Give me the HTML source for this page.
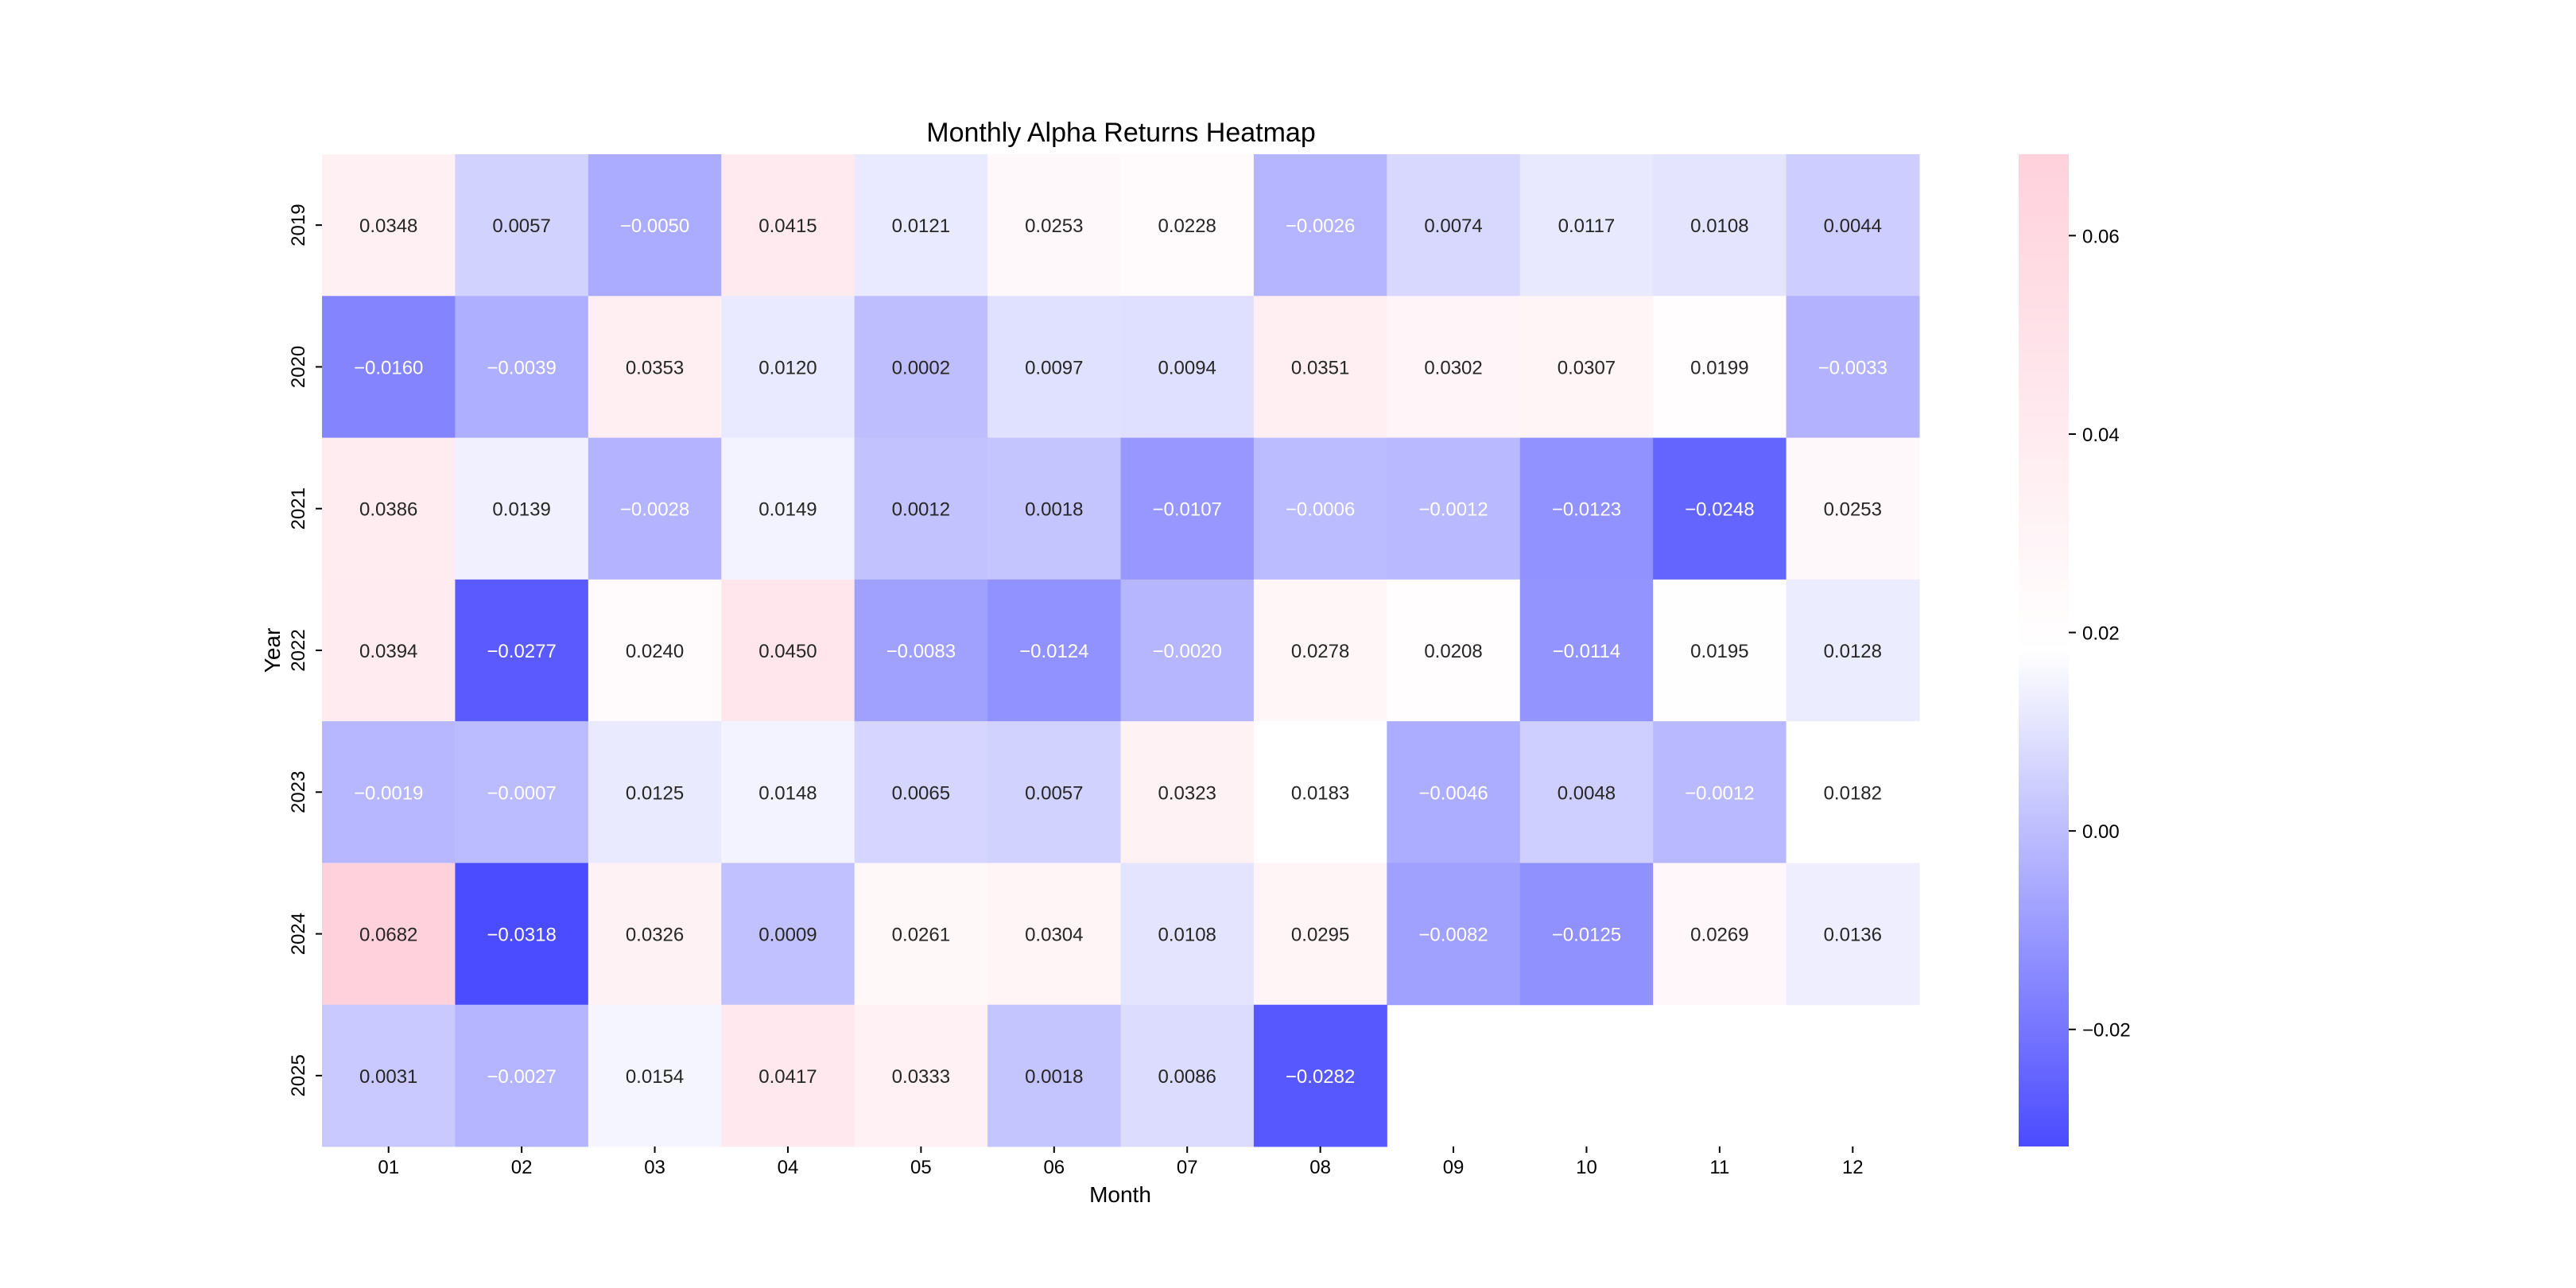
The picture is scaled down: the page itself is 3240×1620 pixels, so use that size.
<!DOCTYPE html>
<html><head><meta charset="utf-8">
<style>
html,body{margin:0;padding:0;background:#fff;}
svg{display:block;font-family:"WenQuanYi Zen Hei","Liberation Sans",sans-serif;}
</style></head>
<body>
<svg id="chart" width="3240" height="1620" viewBox="0 0 3240 1620" xmlns="http://www.w3.org/2000/svg">
<rect width="3240" height="1620" fill="#fff"/>
<text x="1410" y="178" font-size="34" text-anchor="middle" fill="#000">Monthly Alpha Returns Heatmap</text>
<g id="cells"></g>
<g id="xticks"></g>
<g id="yticks"></g>
<text x="1409" y="1512" font-size="28" text-anchor="middle" fill="#000">Month</text>
<text transform="translate(352,818) rotate(-90)" x="0" y="0" font-size="28" text-anchor="middle" fill="#000">Year</text>
<defs>
<linearGradient id="cbgrad" x1="0" y1="1" x2="0" y2="0">
<stop offset="0" stop-color="#4b4bff"/>
<stop offset="0.5" stop-color="#ffffff"/>
<stop offset="1" stop-color="#ffd1dc"/>
</linearGradient>
</defs>
<rect x="2539" y="194" width="63" height="1248" fill="url(#cbgrad)"/>
<g id="cbticks"></g>
</svg>
<script>
const months = ["01","02","03","04","05","06","07","08","09","10","11","12"];
const years = ["2019","2020","2021","2022","2023","2024","2025"];
const v2019 = [0.0348,0.0057,-0.0050,0.0415,0.0121,0.0253,0.0228,-0.0026,0.0074,0.0117,0.0108,0.0044];
const v2020 = [-0.0160,-0.0039,0.0353,0.0120,0.0002,0.0097,0.0094,0.0351,0.0302,0.0307,0.0199,-0.0033];
const v2021 = [0.0386,0.0139,-0.0028,0.0149,0.0012,0.0018,-0.0107,-0.0006,-0.0012,-0.0123,-0.0248,0.0253];
const v2022 = [0.0394,-0.0277,0.0240,0.0450,-0.0083,-0.0124,-0.0020,0.0278,0.0208,-0.0114,0.0195,0.0128];
const v2023 = [-0.0019,-0.0007,0.0125,0.0148,0.0065,0.0057,0.0323,0.0183,-0.0046,0.0048,-0.0012,0.0182];
const v2024 = [0.0682,-0.0318,0.0326,0.0009,0.0261,0.0304,0.0108,0.0295,-0.0082,-0.0125,0.0269,0.0136];
const v2025 = [0.0031,-0.0027,0.0154,0.0417,0.0333,0.0018,0.0086,-0.0282,null,null,null,null];
const values = [v2019,v2020,v2021,v2022,v2023,v2024,v2025];
const cbTicks = [0.06,0.04,0.02,0.00,-0.02];
const cbLabels = ["0.06","0.04","0.02","0.00","\u22120.02"];

(function(){
const NS="http://www.w3.org/2000/svg";
const pL=405,pR=2414,pT=194,pB=1442;
const cw=(pR-pL)/months.length, ch=(pB-pT)/years.length;
const xPos=i=>pL+i*cw;
const yPos=j=>pT+j*ch;
const all=values.flat().filter(v=>v!==null);
const vmin=Math.min(...all), vmax=Math.max(...all);
const cbY=v=>pB-(v-vmin)/(vmax-vmin)*(pB-pT);
function lerp(a,b,t){return a.map((x,i)=>Math.round(x+(b[i]-x)*t));}
function color(v){
  const t=(v-vmin)/(vmax-vmin);
  const lo=[0x4b,0x4b,0xff],mid=[255,255,255],hi=[0xff,0xd1,0xdc];
  const c=t<0.5?lerp(lo,mid,t/0.5):lerp(mid,hi,(t-0.5)/0.5);
  return `rgb(${c[0]},${c[1]},${c[2]})`;
}
function mk(tag,attrs,parent){const e=document.createElementNS(NS,tag);for(const k in attrs)e.setAttribute(k,attrs[k]);parent.appendChild(e);return e;}
const cells=document.getElementById('cells');
values.forEach((row,j)=>{
  row.forEach((v,i)=>{
    if(v===null)return;
    const r=mk('rect',{x:xPos(i),y:yPos(j),width:cw+0.5,height:ch+0.5,fill:color(v)},cells);
    
    
    const t=mk('text',{x:xPos(i)+cw/2,y:yPos(j)+ch/2+9,'font-size':24,'text-anchor':'middle',fill:v<0?'#fff':'#262626'},cells);
    
    
    t.textContent=(v<0?'\u2212':'')+Math.abs(v).toFixed(4);
  });
});
const xg=document.getElementById('xticks');
months.forEach((m,i)=>{
  const x=xPos(i)+cw/2;
  mk('line',{x1:x,x2:x,y1:pB,y2:pB+8,stroke:'#000','stroke-width':2},xg);
  const t=mk('text',{x:x,y:pB+34,'font-size':24,'text-anchor':'middle',fill:'#000'},xg);
  
  
  t.textContent=m;
});
const yg=document.getElementById('yticks');
years.forEach((y,j)=>{
  const yy=yPos(j)+ch/2;
  mk('line',{x1:pL-8,x2:pL,y1:yy,y2:yy,stroke:'#000','stroke-width':2},yg);
  const t=mk('text',{x:0,y:0,transform:`translate(383,${yy}) rotate(-90)`,'font-size':24,'text-anchor':'middle',fill:'#000'},yg);
  
  
  t.textContent=y;
});
const cg=document.getElementById('cbticks');
cbTicks.forEach((v,k)=>{
  const y=cbY(v);
  mk('line',{x1:2602,x2:2611,y1:y,y2:y,stroke:'#000','stroke-width':2},cg);
  const t=mk('text',{x:2619,y:y+9,'font-size':24,fill:'#000'},cg);
  
  
  t.textContent=cbLabels[k];
});
})();
</script>
</body></html>
